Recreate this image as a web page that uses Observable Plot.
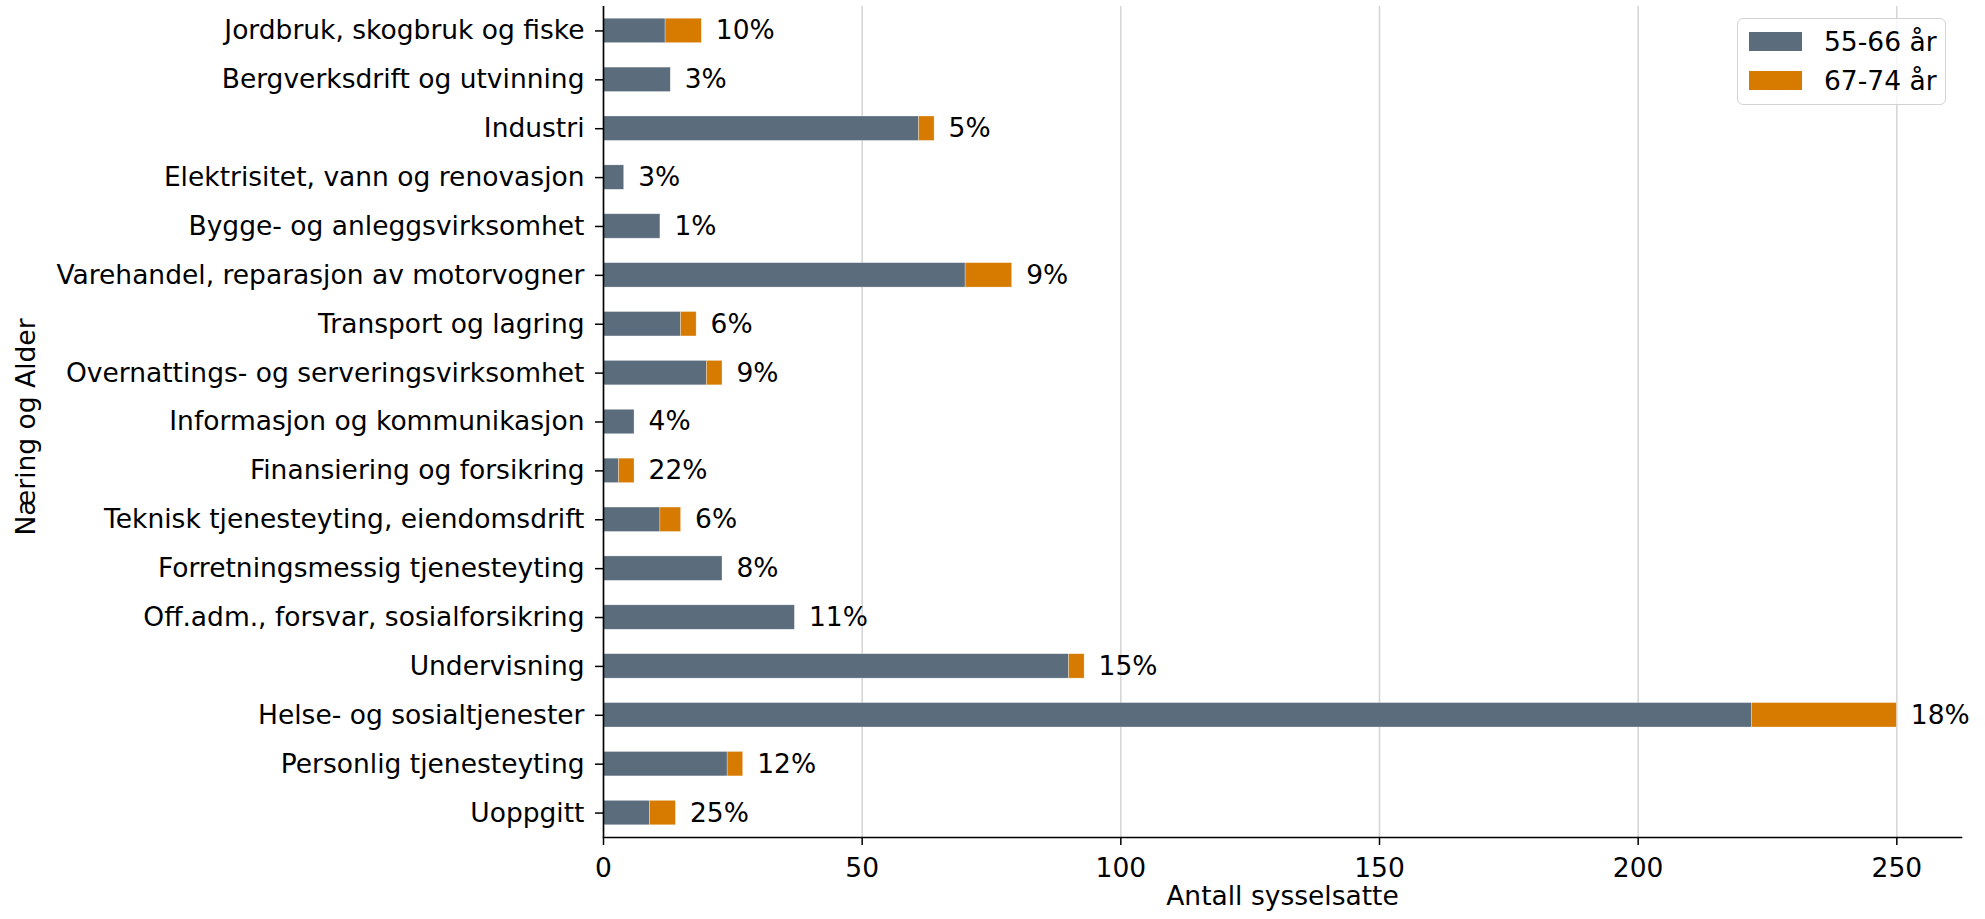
<!DOCTYPE html>
<html>
<head>
<meta charset="utf-8">
<script src="https://cdn.jsdelivr.net/npm/d3@7"></script>
<script src="https://cdn.jsdelivr.net/npm/@observablehq/plot@0.6"></script>
<style>
  html, body { margin: 0; padding: 0; background: #fff; }
  #wrap { position: relative; width: 1985px; height: 919px; font-family: "DejaVu Sans", sans-serif; }
  #legend { position: absolute; left: 1737px; top: 18px; width: 207px; height: 85px;
    border: 1.5px solid #d3d3d3; border-radius: 6px; background: rgba(255,255,255,0.8);
    font-size: 26.5px; color: #000; }
  .item { position: absolute; left: 11px; height: 30px; display: flex; align-items: center; }
  .sw { width: 53px; height: 19px; margin-right: 22px; }
</style>
</head>
<body>
<div id="wrap"></div>
<script>
const categories = [
  "Jordbruk, skogbruk og fiske",
  "Bergverksdrift og utvinning",
  "Industri",
  "Elektrisitet, vann og renovasjon",
  "Bygge- og anleggsvirksomhet",
  "Varehandel, reparasjon av motorvogner",
  "Transport og lagring",
  "Overnattings- og serveringsvirksomhet",
  "Informasjon og kommunikasjon",
  "Finansiering og forsikring",
  "Teknisk tjenesteyting, eiendomsdrift",
  "Forretningsmessig tjenesteyting",
  "Off.adm., forsvar, sosialforsikring",
  "Undervisning",
  "Helse- og sosialtjenester",
  "Personlig tjenesteyting",
  "Uoppgitt"
];
const series = ["55-66 år", "67-74 år"];
const age55_66 = [12, 13, 61, 4, 11, 70, 15, 20, 6, 3, 11, 23, 37, 90, 222, 24, 9];
const age67_74 = [7, 0, 3, 0, 0, 9, 3, 3, 0, 3, 4, 0, 0, 3, 28, 3, 5];
const pctLabels = ["10%", "3%", "5%", "3%", "1%", "9%", "6%", "9%", "4%", "22%", "6%", "8%", "11%", "15%", "18%", "12%", "25%"];
const xTicks = [0, 50, 100, 150, 200, 250];
const colors = ["#5b6c7d", "#d67a00"];

const rows = [];
categories.forEach((c, i) => {
  rows.push({cat: c, series: series[0], value: age55_66[i]});
  rows.push({cat: c, series: series[1], value: age67_74[i]});
});
const totals = categories.map((c, i) => ({cat: c, total: age55_66[i] + age67_74[i], label: pctLabels[i]}));

const chart = Plot.plot({
  width: 1985,
  height: 919,
  marginLeft: 603,
  marginRight: 24,
  marginTop: 6,
  marginBottom: 82,
  style: {fontSize: "26.5px", fontFamily: "'DejaVu Sans', sans-serif", background: "white", color: "#000"},
  x: {domain: [0, 262.5], ticks: xTicks},
  y: {domain: categories, paddingInner: 0.5, paddingOuter: 0.25, round: false},
  color: {domain: series, range: colors},
  marks: [
    Plot.gridX(xTicks, {stroke: "#d4d4d4", strokeOpacity: 1, strokeWidth: 1.5}),
    Plot.barX(rows, {x: "value", y: "cat", fill: "series", stroke: "#ffffff", strokeWidth: 0.6, strokeOpacity: 0.5}),
    Plot.text(totals, {x: "total", y: "cat", text: "label", dx: 14, textAnchor: "start", fill: "#000"}),
    Plot.axisX(xTicks, {tickSize: 8, tickPadding: 13, label: null, strokeWidth: 1.5}),
    Plot.axisY({tickSize: 8, tickPadding: 11, label: null, strokeWidth: 1.5}),
    Plot.ruleX([0], {stroke: "#000", strokeWidth: 1.6}),
    Plot.frame({anchor: "bottom", stroke: "#000", strokeWidth: 1.6}),
    Plot.text(["Antall sysselsatte"], {text: d => d, frameAnchor: "bottom", dy: 67, fill: "#000"}),
    Plot.text(["Næring og Alder"], {text: d => d, frameAnchor: "left", textAnchor: "middle", dx: -577, dy: 5, rotate: -90, fill: "#000"})
  ]
});

const wrap = document.getElementById("wrap");
wrap.appendChild(chart);

const legend = document.createElement("div");
legend.id = "legend";
series.forEach((s, i) => {
  const item = document.createElement("div");
  item.className = "item";
  item.style.top = (7 + i * 39) + "px";
  const sw = document.createElement("div");
  sw.className = "sw";
  sw.style.background = colors[i];
  const t = document.createElement("span");
  t.textContent = s;
  item.appendChild(sw);
  item.appendChild(t);
  legend.appendChild(item);
});
wrap.appendChild(legend);
</script>
</body>
</html>
